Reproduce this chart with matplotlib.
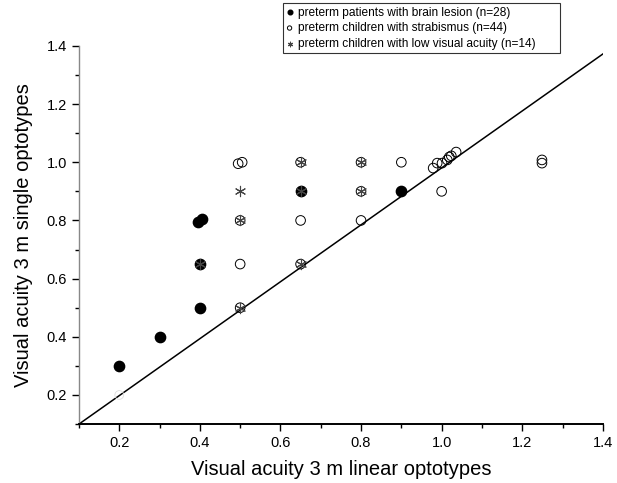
import matplotlib
matplotlib.use("Agg")
import matplotlib.pyplot as plt
from matplotlib.ticker import MultipleLocator

plt.rcParams['font.family'] = ['Liberation Sans', 'DejaVu Sans']

# brain lesion (filled circles)
lesion_x = [0.2, 0.3, 0.4, 0.4, 0.395, 0.405, 0.65, 0.9]
lesion_y = [0.3, 0.4, 0.5, 0.65, 0.795, 0.805, 0.9, 0.9]

# strabismus (open circles)
strab_x = [0.495, 0.505, 0.5, 0.5, 0.5, 0.65, 0.65, 0.65, 0.8, 0.8, 0.8, 0.9, 1.0,
           0.979, 0.989, 1.001, 1.014, 1.019, 1.024, 1.036, 1.249, 1.249]
strab_y = [0.995, 1.0, 0.65, 0.5, 0.8, 0.8, 0.65, 1.0, 0.8, 1.0, 0.9, 1.0, 0.9,
           0.98, 0.997, 0.997, 1.008, 1.018, 1.022, 1.035, 1.008, 0.997]

# low visual acuity (stars)
low_x = [0.4, 0.5, 0.5, 0.5, 0.65, 0.65, 0.65, 0.8, 0.8]
low_y = [0.65, 0.9, 0.8, 0.5, 1.0, 0.9, 0.65, 1.0, 0.9]

# faint marker at (0.2, 0.2)
faint_x = [0.2]
faint_y = [0.2]

line_x = [0.1, 1.4]
line_y = [0.1, 1.372]

fig = plt.figure(figsize=(6.17, 4.83), dpi=100)
ax = fig.add_axes([0.128, 0.122, 0.849, 0.783])

ax.plot(line_x, line_y, color='black', lw=1.1, zorder=1)
ax.scatter(faint_x, faint_y, s=40, facecolors='none', edgecolors='#dddddd', lw=0.6, zorder=2)
ax.scatter(lesion_x, lesion_y, s=55, color='black', edgecolors='black', zorder=3,
           label='preterm patients with brain lesion (n=28)')
ax.scatter(strab_x, strab_y, s=48, facecolors='none', edgecolors='black', lw=0.7, zorder=3,
           label='preterm children with strabismus (n=44)')
ax.scatter(low_x, low_y, s=55, marker=(6, 2, 0), color='#444444', lw=0.8, zorder=4,
           label='preterm children with low visual acuity (n=14)')

ax.set_xlim(0.1, 1.4)
ax.set_ylim(0.1, 1.4)
ax.xaxis.set_minor_locator(MultipleLocator(0.1))
ax.yaxis.set_minor_locator(MultipleLocator(0.1))
ax.set_xticks([0.2, 0.4, 0.6, 0.8, 1.0, 1.2, 1.4])
ax.set_yticks([0.2, 0.4, 0.6, 0.8, 1.0, 1.2, 1.4])
ax.tick_params(which='major', direction='out', length=5, width=1, labelsize=10.5, colors='black')
ax.tick_params(which='minor', direction='out', length=3, width=1)
for s in ['top', 'right']:
    ax.spines[s].set_visible(False)
ax.spines['left'].set_color('#888888')
ax.spines['left'].set_linewidth(1.0)
ax.spines['bottom'].set_linewidth(1.4)

ax.set_xlabel('Visual acuity 3 m linear optotypes', fontsize=14.5, labelpad=7)
ax.set_ylabel('Visual acuity 3 m single optotypes', fontsize=14.5, labelpad=10)

leg = fig.legend(loc='upper left', bbox_to_anchor=(283/617, 1 - 50/483, 277/617, 47/483),
                 mode='expand', fontsize=8.6,
                 frameon=True, fancybox=False, edgecolor='black', markerscale=0.45,
                 handletextpad=0.45, borderpad=0.3, labelspacing=0.3, handlelength=0.5,
                 borderaxespad=0)
leg.get_frame().set_linewidth(0.8)

fig.savefig('out.png', dpi=100)
